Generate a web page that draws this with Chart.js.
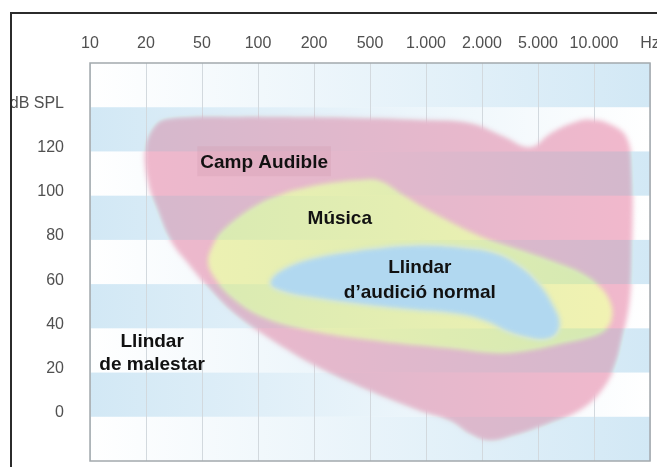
<!DOCTYPE html>
<html>
<head>
<meta charset="utf-8">
<script src="https://cdn.jsdelivr.net/npm/chart.js@4.4.1/dist/chart.umd.min.js"></script>
<style>
  html, body { margin: 0; padding: 0; background: #fff; }
  #wrap { position: relative; width: 657px; height: 467px; overflow: hidden; }
  #chart { display: block; }
  #frame {
    position: absolute; left: 10px; top: 12px; right: -10px; bottom: -10px;
    border-top: 2.5px solid #2b2b2b; border-left: 2.5px solid #2b2b2b;
    pointer-events: none;
  }
</style>
</head>
<body>
<div id="wrap">
  <canvas id="chart"></canvas>
  <div id="frame"></div>
</div>
<script>
/* Eixos */
const xTickLabels = ['10', '20', '50', '100', '200', '500', '1.000', '2.000', '5.000', '10.000', 'Hz'];
const yTickValues = [0, 20, 40, 60, 80, 100, 120, 140];
const yTickLabels = ['0', '20', '40', '60', '80', '100', '120', 'dB SPL'];

/* Franges de fons (vora inferior, en dB) */
const bandsFromLeft = [0, 40, 80, 120];
const bandsFromRight = [-20, 20, 60, 100, 140];
const bandHeight = 20;

/* Camp audible */
const pinkX = [2.86, 4.64, 5.89, 6.79, 7.38, 7.86, 8.21, 8.57, 8.93, 9.32, 9.59, 9.68, 9.68, 9.64, 9.52, 9.36, 9.11, 8.75, 8.21, 7.59, 7.14, 6.79, 6.43, 5.84, 4.95, 4.05, 3.16, 2.55, 2.09, 1.79, 1.43, 1.2, 1.04, 0.98, 1.13, 1.38, 2.86];
const pinkY = [136, 135.5, 134.5, 133, 127, 122, 128, 132.5, 134.5, 132, 126, 111, 75, 53, 37, 22, 11, 3, -3, -8.5, -11, -8, -2, 3, 12, 22.5, 36, 47, 59, 68, 80, 93.5, 105.5, 120.5, 131, 135, 136];

/* Música */
const yellowX = [3.57, 4.16, 4.82, 5.18, 5.59, 6.2, 6.96, 7.68, 8.34, 8.8, 9.11, 9.29, 9.32, 9.2, 8.93, 8.45, 7.86, 7.27, 6.38, 5.18, 3.98, 3.09, 2.55, 2.23, 2.11, 2.2, 2.38, 2.98, 3.57];
const yellowY = [102, 105.2, 107, 106.5, 100.2, 91.2, 81.7, 75.4, 69.5, 64.6, 58.7, 51.9, 44.7, 39.3, 36.1, 33.4, 30.2, 28.9, 31.2, 34.3, 38.8, 45.1, 53.7, 62.8, 70, 77.7, 84.4, 95.7, 102];

/* Llindar d'audició normal */
const blueX = [4.88, 5.77, 6.66, 7.27, 7.71, 8.04, 8.27, 8.39, 8.32, 8.09, 7.8, 7.45, 7.14, 6.66, 5.77, 4.88, 3.98, 3.45, 3.21, 3.39, 3.98, 4.88];
const blueY = [75.8, 77.7, 76.7, 74, 67.7, 59.6, 50.6, 42.9, 37, 34.8, 35.7, 38.4, 42.4, 46, 48.3, 50.6, 53.7, 56.4, 60, 65.9, 71.8, 75.8];

/* Rètols */
const noteText = ['Camp Audible', 'Música', 'Llindar', 'd’audició normal', 'Llindar', 'de malestar'];
const noteX = [3.11, 4.46, 5.89, 5.89, 1.11, 1.11];
const noteY = [112.4, 87.1, 65, 53.7, 31.6, 21.2];

const bandColor = 'rgba(210, 232, 245, 1)';
const bandClear = 'rgba(210, 232, 245, 0)';
const noteFont = 'bold 19px "Liberation Sans", Arial, sans-serif';

function blob(xs, ys, color) {
    return {
        data: xs.map((x, i) => ({ x, y: ys[i] })),
        showLine: true,
        fill: 'shape',
        backgroundColor: color,
        borderColor: 'rgba(0, 0, 0, 0)',
        borderWidth: 0,
        pointRadius: 0,
        tension: 0.4
    };
}

const backdrop = {
    id: 'backdrop',
    beforeDraw(chart) {
        const { ctx, chartArea: a } = chart;
        ctx.save();
        ctx.fillStyle = '#fff';
        ctx.fillRect(a.left, a.top, a.width, a.height);
        ctx.restore();
    },
    beforeDatasetsDraw(chart) {
        chart.ctx.save();
        chart.ctx.filter = 'blur(2.5px)';
    },
    afterDatasetsDraw(chart) {
        const { ctx, chartArea: a, scales: { x, y } } = chart;
        ctx.restore();

        // ombra suau darrere de "Camp Audible"
        ctx.save();
        ctx.font = noteFont;
        const w = ctx.measureText(noteText[0]).width;
        const cx = x.getPixelForValue(noteX[0]);
        const by = y.getPixelForValue(noteY[0]);
        ctx.fillStyle = 'rgba(110, 50, 90, 0.07)';
        ctx.fillRect(cx - w / 2 - 3, by - 22, w + 6, 30);
        ctx.restore();

        ctx.save();
        ctx.globalCompositeOperation = 'darken';
        const paint = (starts, fromLeft) => {
            const g = ctx.createLinearGradient(a.left, 0, a.right, 0);
            g.addColorStop(0, fromLeft ? bandColor : bandClear);
            g.addColorStop(1, fromLeft ? bandClear : bandColor);
            ctx.fillStyle = g;
            starts.forEach((v) => {
                const top = y.getPixelForValue(v + bandHeight);
                const bottom = y.getPixelForValue(v);
                ctx.fillRect(a.left, top, a.width, bottom - top);
            });
        };
        paint(bandsFromLeft, true);
        paint(bandsFromRight, false);
        ctx.restore();
    },
    afterDraw(chart) {
        const { ctx, chartArea: a, scales: { x, y } } = chart;
        ctx.save();
        ctx.strokeStyle = '#a3a9ad';
        ctx.lineWidth = 1.5;
        ctx.strokeRect(a.left, a.top, a.width, a.height);

        ctx.font = noteFont;
        ctx.fillStyle = '#111';
        ctx.textAlign = 'center';
        ctx.textBaseline = 'alphabetic';
        noteText.forEach((t, i) => {
            ctx.fillText(t, x.getPixelForValue(noteX[i]), y.getPixelForValue(noteY[i]));
        });
        ctx.restore();
    }
};

new Chart(document.getElementById('chart'), {
    type: 'scatter',
    data: {
        datasets: [
            blob(blueX, blueY, '#b1d8f0'),
            blob(yellowX, yellowY, '#f3f3b2'),
            blob(pinkX, pinkY, '#f2b8cc')
        ]
    },
    options: {
        responsive: true,
        maintainAspectRatio: false,
        animation: false,
        events: [],
        layout: { padding: { left: 0, top: 0, right: 7, bottom: 6 } },
        plugins: {
            legend: { display: false },
            tooltip: { enabled: false }
        },
        scales: {
            x: {
                type: 'linear',
                position: 'top',
                min: 0,
                max: xTickLabels.length - 1,
                z: 1,
                afterBuildTicks: (scale) => {
                    scale.ticks = xTickLabels.map((_, i) => ({ value: i }));
                },
                afterFit: (scale) => {
                    scale.height = 63;
                    scale.paddingLeft = 0;
                    scale.paddingRight = 0;
                },
                grid: { color: 'rgba(110, 130, 145, 0.3)', lineWidth: 1, drawTicks: false },
                border: { display: false },
                ticks: {
                    padding: 10,
                    maxRotation: 0,
                    autoSkip: false,
                    color: '#505050',
                    font: { family: '"Liberation Sans", Arial, sans-serif', size: 16 },
                    callback: (v) => xTickLabels[v]
                }
            },
            y: {
                min: -20,
                max: 160,
                afterBuildTicks: (scale) => {
                    scale.ticks = yTickValues.map((v) => ({ value: v }));
                },
                afterFit: (scale) => {
                    scale.width = 90;
                    scale.paddingTop = 0;
                    scale.paddingBottom = 0;
                },
                grid: { display: false },
                border: { display: false },
                ticks: {
                    padding: 18,
                    labelOffset: -4,
                    autoSkip: false,
                    color: '#505050',
                    font: { family: '"Liberation Sans", Arial, sans-serif', size: 16 },
                    callback: (v) => yTickLabels[yTickValues.indexOf(v)]
                }
            }
        }
    },
    plugins: [backdrop]
});
</script>
</body>
</html>
